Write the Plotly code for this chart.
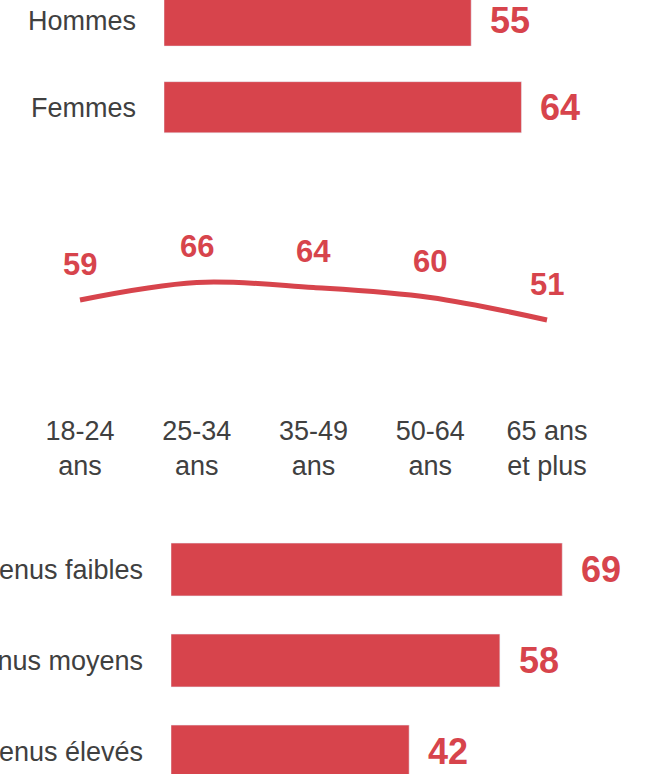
import plotly.graph_objects as go

# ---- data ----
sexe_labels = ["Hommes", "Femmes"]
sexe_values = [55, 64]

age_labels = ["18-24<br>ans", "25-34<br>ans", "35-49<br>ans", "50-64<br>ans", "65 ans<br>et plus"]
age_values = [59, 66, 64, 60, 51]

revenu_labels = ["Revenus faibles", "Revenus moyens", "Revenus élevés"]
revenu_values = [69, 58, 42]

# ---- style ----
W, H = 646, 774
RED = "#D7444C"
GREY = "#404040"
FONT = "Liberation Sans, Arial, sans-serif"

def py(p):  # pixel from top -> paper fraction
    return 1 - p / H

fig = go.Figure()

# Top bars
fig.add_trace(go.Bar(x=sexe_values, y=sexe_labels, orientation="h",
                     marker_color=RED, width=0.59, xaxis="x", yaxis="y",
                     hoverinfo="skip"))
# Line
fig.add_trace(go.Scatter(x=age_labels, y=age_values, mode="lines",
                         line=dict(color=RED, width=5, shape="spline", smoothing=1),
                         xaxis="x2", yaxis="y2", hoverinfo="skip"))
# Bottom bars
fig.add_trace(go.Bar(x=revenu_values, y=revenu_labels, orientation="h",
                     marker_color=RED, width=0.58, xaxis="x3", yaxis="y3",
                     hoverinfo="skip"))

annotations = []
for lab, v in zip(sexe_labels, sexe_values):
    annotations.append(dict(x=v, y=lab, xref="x", yref="y", text=f"<b>{v}</b>",
                            showarrow=False, xanchor="left", xshift=17,
                            font=dict(size=36, color=RED, family=FONT)))
for lab, v in zip(revenu_labels, revenu_values):
    annotations.append(dict(x=v, y=lab, xref="x3", yref="y3", text=f"<b>{v}</b>",
                            showarrow=False, xanchor="left", xshift=17,
                            font=dict(size=36, color=RED, family=FONT)))
for lab, v in zip(age_labels, age_values):
    annotations.append(dict(x=lab, y=v, xref="x2", yref="y2", text=f"<b>{v}</b>",
                            showarrow=False, yanchor="middle", yshift=36,
                            font=dict(size=31, color=RED, family=FONT)))

# Geometry (pixels)
top_x0, top_scale = 164, 5.585
bot_x0, bot_scale = 171, 5.67
top_c0, top_pitch = 20.5, 86.75
bot_c0, bot_pitch = 569.5, 91.0
top_dom = (0, 150)
bot_dom = (520, 774)
line_dom = (220, 412)
line_x0, line_pitch = 80, 116.75
line_y_ref, line_v_ref, line_k = 300, 59, 2.5

hidden = dict(showgrid=False, zeroline=False, showline=False, showticklabels=False,
              fixedrange=True, automargin=False)

fig.update_layout(
    width=W, height=H,
    margin=dict(l=0, r=0, t=0, b=0, autoexpand=False),
    paper_bgcolor="white", plot_bgcolor="white",
    showlegend=False,
    font=dict(family=FONT, color=GREY, size=27),
    xaxis=dict(domain=[top_x0 / W, 1], range=[0, (W - top_x0) / top_scale], anchor="y", **hidden),
    yaxis=dict(domain=[py(top_dom[1]), py(top_dom[0])],
               range=[(top_dom[1] - top_c0) / top_pitch, (top_dom[0] - top_c0) / top_pitch],
               anchor="x", type="category", showgrid=False, zeroline=False, showline=False,
               automargin=False, ticks="", ticklabelstandoff=27, tickfont=dict(size=27, color=GREY)),
    xaxis2=dict(domain=[0, 1], range=[-line_x0 / line_pitch, (W - line_x0) / line_pitch],
                anchor="y2", type="category", showgrid=False, zeroline=False, showline=False,
                automargin=False, ticks="", tickfont=dict(size=27, color=GREY)),
    yaxis2=dict(domain=[py(line_dom[1]), py(line_dom[0])],
                range=[line_v_ref + (line_y_ref - line_dom[1]) / line_k,
                       line_v_ref + (line_y_ref - line_dom[0]) / line_k],
                anchor="x2", **hidden),
    xaxis3=dict(domain=[bot_x0 / W, 1], range=[0, (W - bot_x0) / bot_scale], anchor="y3", **hidden),
    yaxis3=dict(domain=[py(bot_dom[1]), py(bot_dom[0])],
                range=[(bot_dom[1] - bot_c0) / bot_pitch, (bot_dom[0] - bot_c0) / bot_pitch],
                anchor="x3", type="category", showgrid=False, zeroline=False, showline=False,
                automargin=False, ticks="", ticklabelstandoff=27, tickfont=dict(size=27, color=GREY)),
    annotations=annotations,
)

fig.write_html("out.html",
               config={"displayModeBar": False, "staticPlot": True},
               post_script="document.body.style.margin='0';document.body.style.overflow='hidden';")
